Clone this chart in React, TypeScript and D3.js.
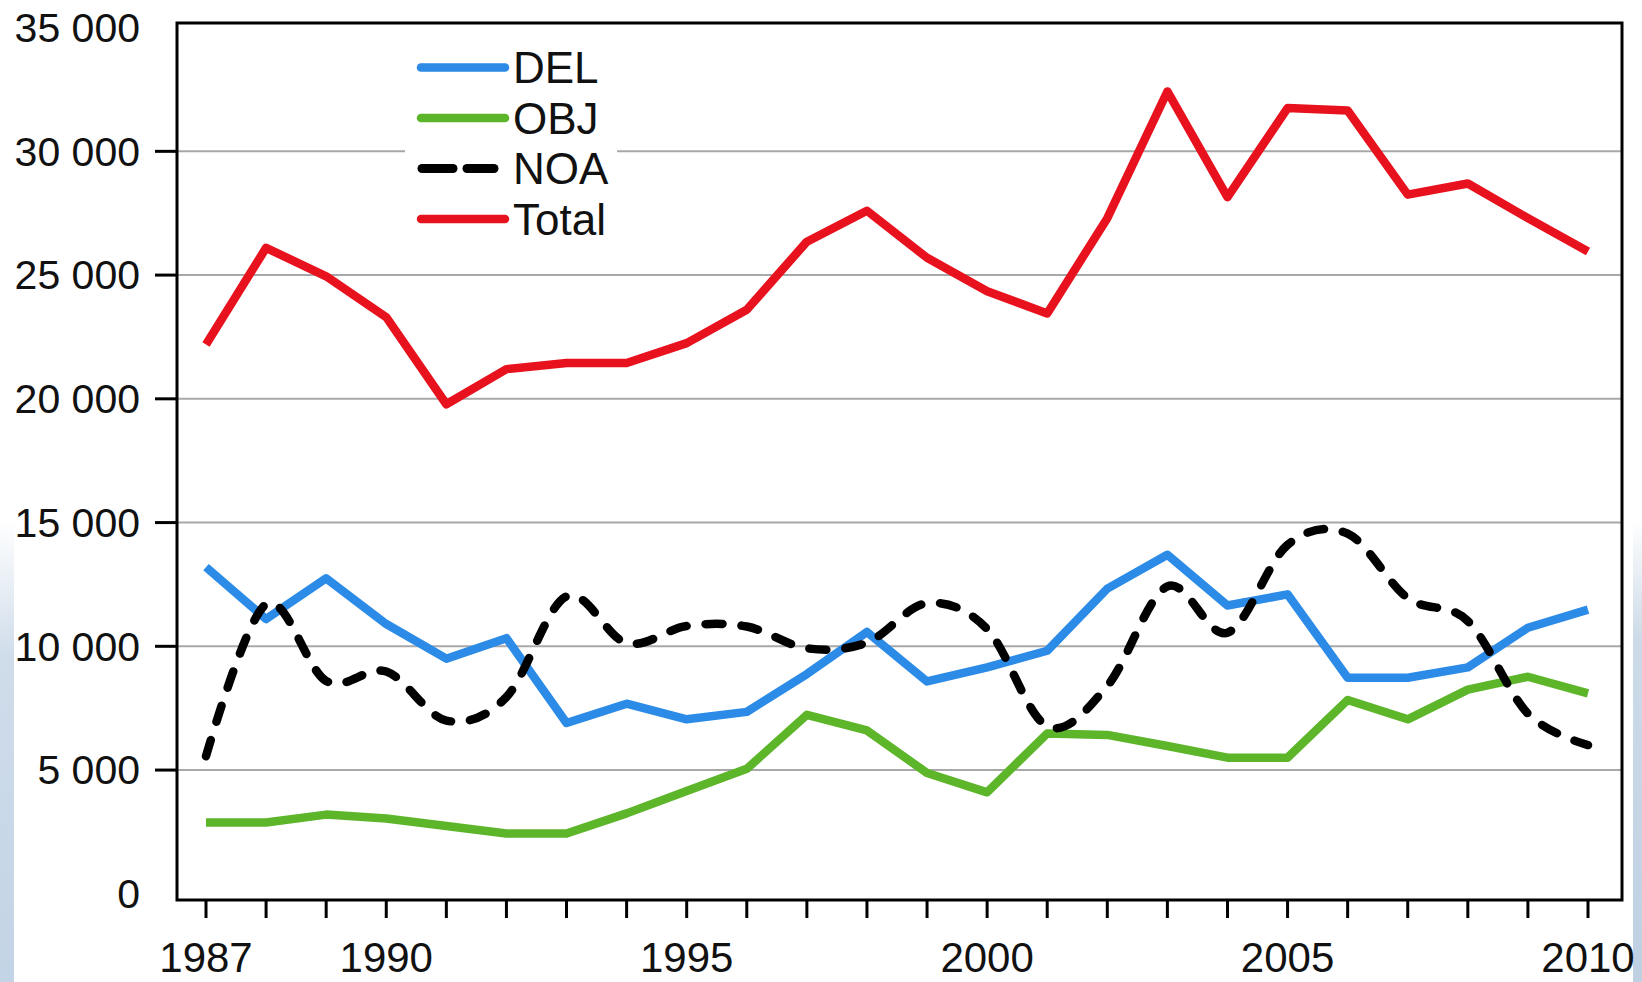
import React from "react";
import * as d3 from "d3";

const years = d3.range(1987, 2011);
const yTicks = [0, 5000, 10000, 15000, 20000, 25000, 30000, 35000];
const xTickLabels = [1987, 1990, 1995, 2000, 2005, 2010];

const DEL = [13200, 11100, 12750, 10900, 9500, 10330, 6900, 7680, 7050, 7350, 8880, 10580, 8580, 9150, 9820, 12330, 13700, 11650, 12100, 8730, 8730, 9150, 10750, 11480];
const OBJ = [2880, 2880, 3200, 3040, 2740, 2440, 2440, 3250, 4150, 5050, 7230, 6600, 4880, 4100, 6480, 6420, 5970, 5500, 5500, 7830, 7050, 8250, 8770, 8100];
const NOA = [5560, 11700, 8600, 8980, 7000, 7950, 12020, 10130, 10820, 10800, 9920, 10150, 11740, 10700, 6770, 8400, 12420, 10550, 14100, 14550, 11950, 11020, 7280, 6010];
const TOTAL = [22200, 26100, 24950, 23300, 19780, 21200, 21450, 21450, 22250, 23600, 26350, 27600, 25700, 24350, 23450, 27300, 32420, 28150, 31750, 31650, 28250, 28700, 27300, 25950];

const legendItems = [
  { name: "DEL", color: "#2b8be6", dashed: false },
  { name: "OBJ", color: "#5db52a", dashed: false },
  { name: "NOA", color: "#000000", dashed: true },
  { name: "Total", color: "#e8121e", dashed: false },
];

const W = 1642;
const H = 982;
const FONT = "'Liberation Sans', Arial, Helvetica, sans-serif";

export default function App() {
  const x = d3.scaleLinear().domain([1987, 2010]).range([206, 1588]);
  const y = d3.scaleLinear().domain([0, 35000]).range([893.8, 27.6]);
  const frame = { left: 177, right: 1622, top: 23, bottom: 900 };

  const straight = d3
    .line<number>()
    .x((_, i) => x(years[i]))
    .y((d) => y(d))
    .curve(d3.curveLinear);
  const smooth = d3
    .line<number>()
    .x((_, i) => x(years[i]))
    .y((d) => y(d))
    .curve(d3.curveCardinal.tension(0));

  const series = [
    { data: OBJ, color: legendItems[1].color, dashed: false },
    { data: DEL, color: legendItems[0].color, dashed: false },
    { data: NOA, color: legendItems[2].color, dashed: true },
    { data: TOTAL, color: legendItems[3].color, dashed: false },
  ];

  return (
    <svg
      width={W}
      height={H}
      viewBox={`0 0 ${W} ${H}`}
      style={{ position: "absolute", left: 0, top: 0, background: "#ffffff" }}
    >
      <defs>
        <linearGradient id="leftStrip" x1="0" y1="0" x2="0" y2="1">
          <stop offset="0" stopColor="#ffffff" stopOpacity="1" />
          <stop offset="0.3" stopColor="#cfdcea" />
          <stop offset="1" stopColor="#c3d4e6" />
        </linearGradient>
        <linearGradient id="rightStrip" x1="0" y1="0" x2="0" y2="1">
          <stop offset="0" stopColor="#ffffff" />
          <stop offset="0.25" stopColor="#cddbe8" />
          <stop offset="1" stopColor="#bed0e2" />
        </linearGradient>
      </defs>
      <rect x={0} y={0} width={W} height={H} fill="#ffffff" />
      <rect x={0} y={520} width={14} height={H - 520} fill="url(#leftStrip)" />
      <rect x={1633} y={520} width={9} height={H - 520} fill="url(#rightStrip)" />

      {/* gridlines */}
      {yTicks
        .filter((t) => t > 0 && t < 35000)
        .map((t) => (
          <line
            key={"g" + t}
            x1={frame.left}
            x2={frame.right}
            y1={y(t)}
            y2={y(t)}
            stroke="#a8a8a8"
            strokeWidth={2}
          />
        ))}

      {/* legend background */}
      <rect x={405} y={40} width={212} height={202} fill="#ffffff" />

      {/* y ticks and labels */}
      {yTicks.map((t) => (
        <g key={"y" + t}>
          {t > 0 && t < 35000 && (
            <line x1={155} x2={frame.left} y1={y(t)} y2={y(t)} stroke="#000" strokeWidth={3} />
          )}
          <text
            x={140}
            y={y(t)}
            dy="0.35em"
            textAnchor="end"
            fontFamily={FONT}
            fontSize={41}
            fill="#111"
          >
            {d3.format(",")(t).replace(/,/g, " ")}
          </text>
        </g>
      ))}

      {/* x ticks */}
      {years.map((yr) => (
        <line
          key={"xt" + yr}
          x1={x(yr)}
          x2={x(yr)}
          y1={frame.bottom}
          y2={918}
          stroke="#000"
          strokeWidth={3}
        />
      ))}
      {xTickLabels.map((yr) => (
        <text
          key={"xl" + yr}
          x={x(yr)}
          y={972}
          textAnchor="middle"
          fontFamily={FONT}
          fontSize={42}
          fill="#111"
        >
          {yr}
        </text>
      ))}

      {/* series */}
      {series.map((s, i) => (
        <path
          key={"s" + i}
          d={(s.dashed ? smooth : straight)(s.data) || ""}
          fill="none"
          stroke={s.color}
          strokeWidth={s.dashed ? 8.5 : 8.5}
          strokeLinejoin="round"
          strokeLinecap={s.dashed ? "round" : "butt"}
          strokeDasharray={s.dashed ? "17 19" : undefined}
        />
      ))}

      {/* frame */}
      <rect
        x={frame.left}
        y={frame.top}
        width={frame.right - frame.left}
        height={frame.bottom - frame.top}
        fill="none"
        stroke="#000"
        strokeWidth={3}
      />

      {/* legend */}
      {legendItems.map((it, i) => {
        const ly = 67.5 + i * 50.5;
        return (
          <g key={"lg" + it.name}>
            {it.dashed ? (
              <>
                <line x1={422} x2={453} y1={ly} y2={ly} stroke="#000" strokeWidth={9} strokeLinecap="round" />
                <line x1={467} x2={494} y1={ly} y2={ly} stroke="#000" strokeWidth={9} strokeLinecap="round" />
              </>
            ) : (
              <line x1={421} x2={505} y1={ly} y2={ly} stroke={it.color} strokeWidth={8.5} strokeLinecap="round" />
            )}
            <text
              x={513}
              y={ly}
              dy="0.36em"
              fontFamily={FONT}
              fontSize={44}
              fill="#111"
            >
              {it.name}
            </text>
          </g>
        );
      })}
    </svg>
  );
}
